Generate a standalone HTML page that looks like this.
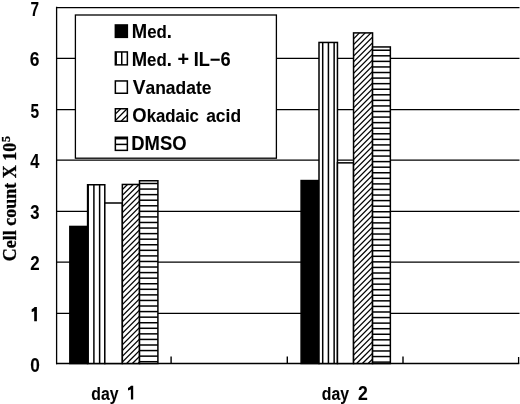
<!DOCTYPE html><html><head><meta charset="utf-8"><style>text{font-kerning:none}html,body{margin:0;padding:0;background:#fff;width:520px;height:404px;overflow:hidden}svg{display:block;filter:grayscale(1)}</style></head><body>
<svg width="520" height="404" viewBox="0 0 520 404">
<rect width="520" height="404" fill="#fff"/>
<g stroke="#000" stroke-width="1.25" fill="none">
<line x1="56" y1="313.3" x2="519.5" y2="313.3"/>
<line x1="56" y1="262" x2="519.5" y2="262"/>
<line x1="56" y1="211.3" x2="519.5" y2="211.3"/>
<line x1="56" y1="160.1" x2="519.5" y2="160.1"/>
<line x1="56" y1="109.7" x2="519.5" y2="109.7"/>
<line x1="56" y1="58.4" x2="519.5" y2="58.4"/>
<line x1="56" y1="7.6" x2="519.5" y2="7.6"/>
</g>
<line x1="56.6" y1="6.7" x2="56.6" y2="364.2" stroke="#000" stroke-width="1.3"/>
<line x1="56" y1="363.6" x2="519.3" y2="363.6" stroke="#000" stroke-width="1.5"/>
<line x1="171.1" y1="356.6" x2="171.1" y2="363.6" stroke="#000" stroke-width="1.4"/>
<line x1="287.3" y1="356.6" x2="287.3" y2="363.6" stroke="#000" stroke-width="1.4"/>
<line x1="403.0" y1="356.6" x2="403.0" y2="363.6" stroke="#000" stroke-width="1.4"/>
<line x1="518.6" y1="357" x2="518.6" y2="363.6" stroke="#000" stroke-width="1.3"/>
<rect x="69.85" y="226.45" width="17.75" height="137.05" fill="#000"/>
<rect x="69.85" y="226.45" width="17.75" height="137.05" fill="none" stroke="#000" stroke-width="1.5"/>
<rect x="87.6" y="184.75" width="17.2" height="178.75" fill="#fff"/>
<g stroke="#000" stroke-width="1.5"><line x1="88.18" y1="184.75" x2="88.18" y2="363.5"/><line x1="93.9" y1="184.75" x2="93.9" y2="363.5"/><line x1="99.62" y1="184.75" x2="99.62" y2="363.5"/></g>
<rect x="87.6" y="184.75" width="17.2" height="178.75" fill="none" stroke="#000" stroke-width="1.5"/>
<rect x="104.8" y="203" width="17.55" height="160.5" fill="#fff"/>
<rect x="104.8" y="203" width="17.55" height="160.5" fill="none" stroke="#000" stroke-width="1.5"/>
<rect x="122.35" y="184.45" width="17.15" height="179.05" fill="#fff"/>
<clipPath id="c1"><rect x="122.35" y="184.45" width="17.15" height="179.05"/></clipPath>
<g clip-path="url(#c1)" stroke="#000" stroke-width="1.3"><line x1="-51.6" y1="363.5" x2="127.45" y2="184.45"/><line x1="-45.85" y1="363.5" x2="133.2" y2="184.45"/><line x1="-40.1" y1="363.5" x2="138.95" y2="184.45"/><line x1="-34.35" y1="363.5" x2="144.7" y2="184.45"/><line x1="-28.6" y1="363.5" x2="150.45" y2="184.45"/><line x1="-22.85" y1="363.5" x2="156.2" y2="184.45"/><line x1="-17.1" y1="363.5" x2="161.95" y2="184.45"/><line x1="-11.35" y1="363.5" x2="167.7" y2="184.45"/><line x1="-5.6" y1="363.5" x2="173.45" y2="184.45"/><line x1="0.15" y1="363.5" x2="179.2" y2="184.45"/><line x1="5.9" y1="363.5" x2="184.95" y2="184.45"/><line x1="11.65" y1="363.5" x2="190.7" y2="184.45"/><line x1="17.4" y1="363.5" x2="196.45" y2="184.45"/><line x1="23.15" y1="363.5" x2="202.2" y2="184.45"/><line x1="28.9" y1="363.5" x2="207.95" y2="184.45"/><line x1="34.65" y1="363.5" x2="213.7" y2="184.45"/><line x1="40.4" y1="363.5" x2="219.45" y2="184.45"/><line x1="46.15" y1="363.5" x2="225.2" y2="184.45"/><line x1="51.9" y1="363.5" x2="230.95" y2="184.45"/><line x1="57.65" y1="363.5" x2="236.7" y2="184.45"/><line x1="63.4" y1="363.5" x2="242.45" y2="184.45"/><line x1="69.15" y1="363.5" x2="248.2" y2="184.45"/><line x1="74.9" y1="363.5" x2="253.95" y2="184.45"/><line x1="80.65" y1="363.5" x2="259.7" y2="184.45"/><line x1="86.4" y1="363.5" x2="265.45" y2="184.45"/><line x1="92.15" y1="363.5" x2="271.2" y2="184.45"/><line x1="97.9" y1="363.5" x2="276.95" y2="184.45"/><line x1="103.65" y1="363.5" x2="282.7" y2="184.45"/><line x1="109.4" y1="363.5" x2="288.45" y2="184.45"/><line x1="115.15" y1="363.5" x2="294.2" y2="184.45"/><line x1="120.9" y1="363.5" x2="299.95" y2="184.45"/><line x1="126.65" y1="363.5" x2="305.7" y2="184.45"/><line x1="132.4" y1="363.5" x2="311.45" y2="184.45"/><line x1="138.15" y1="363.5" x2="317.2" y2="184.45"/></g>
<rect x="122.35" y="184.45" width="17.15" height="179.05" fill="none" stroke="#000" stroke-width="1.5"/>
<rect x="139.5" y="180.75" width="18.4" height="182.75" fill="#fff"/>
<g stroke="#000" stroke-width="1.5"><line x1="139.5" y1="183.5" x2="157.9" y2="183.5"/><line x1="139.5" y1="189.07" x2="157.9" y2="189.07"/><line x1="139.5" y1="194.64" x2="157.9" y2="194.64"/><line x1="139.5" y1="200.21" x2="157.9" y2="200.21"/><line x1="139.5" y1="205.78" x2="157.9" y2="205.78"/><line x1="139.5" y1="211.34" x2="157.9" y2="211.34"/><line x1="139.5" y1="216.91" x2="157.9" y2="216.91"/><line x1="139.5" y1="222.48" x2="157.9" y2="222.48"/><line x1="139.5" y1="228.05" x2="157.9" y2="228.05"/><line x1="139.5" y1="233.62" x2="157.9" y2="233.62"/><line x1="139.5" y1="239.19" x2="157.9" y2="239.19"/><line x1="139.5" y1="244.76" x2="157.9" y2="244.76"/><line x1="139.5" y1="250.33" x2="157.9" y2="250.33"/><line x1="139.5" y1="255.9" x2="157.9" y2="255.9"/><line x1="139.5" y1="261.47" x2="157.9" y2="261.47"/><line x1="139.5" y1="267.03" x2="157.9" y2="267.03"/><line x1="139.5" y1="272.6" x2="157.9" y2="272.6"/><line x1="139.5" y1="278.17" x2="157.9" y2="278.17"/><line x1="139.5" y1="283.74" x2="157.9" y2="283.74"/><line x1="139.5" y1="289.31" x2="157.9" y2="289.31"/><line x1="139.5" y1="294.88" x2="157.9" y2="294.88"/><line x1="139.5" y1="300.45" x2="157.9" y2="300.45"/><line x1="139.5" y1="306.02" x2="157.9" y2="306.02"/><line x1="139.5" y1="311.59" x2="157.9" y2="311.59"/><line x1="139.5" y1="317.16" x2="157.9" y2="317.16"/><line x1="139.5" y1="322.73" x2="157.9" y2="322.73"/><line x1="139.5" y1="328.29" x2="157.9" y2="328.29"/><line x1="139.5" y1="333.86" x2="157.9" y2="333.86"/><line x1="139.5" y1="339.43" x2="157.9" y2="339.43"/><line x1="139.5" y1="345" x2="157.9" y2="345"/><line x1="139.5" y1="350.57" x2="157.9" y2="350.57"/><line x1="139.5" y1="356.14" x2="157.9" y2="356.14"/><line x1="139.5" y1="361.71" x2="157.9" y2="361.71"/></g>
<rect x="139.5" y="180.75" width="18.4" height="182.75" fill="none" stroke="#000" stroke-width="1.5"/>
<rect x="301.1" y="180.55" width="17.9" height="182.95" fill="#000"/>
<rect x="301.1" y="180.55" width="17.9" height="182.95" fill="none" stroke="#000" stroke-width="1.5"/>
<rect x="319" y="42.45" width="18.45" height="321.05" fill="#fff"/>
<g stroke="#000" stroke-width="1.5"><line x1="322.7" y1="42.45" x2="322.7" y2="363.5"/><line x1="328.42" y1="42.45" x2="328.42" y2="363.5"/><line x1="334.14" y1="42.45" x2="334.14" y2="363.5"/></g>
<rect x="319" y="42.45" width="18.45" height="321.05" fill="none" stroke="#000" stroke-width="1.5"/>
<rect x="337.45" y="162.85" width="16.1" height="200.65" fill="#fff"/>
<rect x="337.45" y="162.85" width="16.1" height="200.65" fill="none" stroke="#000" stroke-width="1.5"/>
<rect x="353.55" y="32.9" width="19" height="330.6" fill="#fff"/>
<clipPath id="c2"><rect x="353.55" y="32.9" width="19" height="330.6"/></clipPath>
<g clip-path="url(#c2)" stroke="#000" stroke-width="1.3"><line x1="23.15" y1="363.5" x2="353.75" y2="32.9"/><line x1="28.9" y1="363.5" x2="359.5" y2="32.9"/><line x1="34.65" y1="363.5" x2="365.25" y2="32.9"/><line x1="40.4" y1="363.5" x2="371" y2="32.9"/><line x1="46.15" y1="363.5" x2="376.75" y2="32.9"/><line x1="51.9" y1="363.5" x2="382.5" y2="32.9"/><line x1="57.65" y1="363.5" x2="388.25" y2="32.9"/><line x1="63.4" y1="363.5" x2="394" y2="32.9"/><line x1="69.15" y1="363.5" x2="399.75" y2="32.9"/><line x1="74.9" y1="363.5" x2="405.5" y2="32.9"/><line x1="80.65" y1="363.5" x2="411.25" y2="32.9"/><line x1="86.4" y1="363.5" x2="417" y2="32.9"/><line x1="92.15" y1="363.5" x2="422.75" y2="32.9"/><line x1="97.9" y1="363.5" x2="428.5" y2="32.9"/><line x1="103.65" y1="363.5" x2="434.25" y2="32.9"/><line x1="109.4" y1="363.5" x2="440" y2="32.9"/><line x1="115.15" y1="363.5" x2="445.75" y2="32.9"/><line x1="120.9" y1="363.5" x2="451.5" y2="32.9"/><line x1="126.65" y1="363.5" x2="457.25" y2="32.9"/><line x1="132.4" y1="363.5" x2="463" y2="32.9"/><line x1="138.15" y1="363.5" x2="468.75" y2="32.9"/><line x1="143.9" y1="363.5" x2="474.5" y2="32.9"/><line x1="149.65" y1="363.5" x2="480.25" y2="32.9"/><line x1="155.4" y1="363.5" x2="486" y2="32.9"/><line x1="161.15" y1="363.5" x2="491.75" y2="32.9"/><line x1="166.9" y1="363.5" x2="497.5" y2="32.9"/><line x1="172.65" y1="363.5" x2="503.25" y2="32.9"/><line x1="178.4" y1="363.5" x2="509" y2="32.9"/><line x1="184.15" y1="363.5" x2="514.75" y2="32.9"/><line x1="189.9" y1="363.5" x2="520.5" y2="32.9"/><line x1="195.65" y1="363.5" x2="526.25" y2="32.9"/><line x1="201.4" y1="363.5" x2="532" y2="32.9"/><line x1="207.15" y1="363.5" x2="537.75" y2="32.9"/><line x1="212.9" y1="363.5" x2="543.5" y2="32.9"/><line x1="218.65" y1="363.5" x2="549.25" y2="32.9"/><line x1="224.4" y1="363.5" x2="555" y2="32.9"/><line x1="230.15" y1="363.5" x2="560.75" y2="32.9"/><line x1="235.9" y1="363.5" x2="566.5" y2="32.9"/><line x1="241.65" y1="363.5" x2="572.25" y2="32.9"/><line x1="247.4" y1="363.5" x2="578" y2="32.9"/><line x1="253.15" y1="363.5" x2="583.75" y2="32.9"/><line x1="258.9" y1="363.5" x2="589.5" y2="32.9"/><line x1="264.65" y1="363.5" x2="595.25" y2="32.9"/><line x1="270.4" y1="363.5" x2="601" y2="32.9"/><line x1="276.15" y1="363.5" x2="606.75" y2="32.9"/><line x1="281.9" y1="363.5" x2="612.5" y2="32.9"/><line x1="287.65" y1="363.5" x2="618.25" y2="32.9"/><line x1="293.4" y1="363.5" x2="624" y2="32.9"/><line x1="299.15" y1="363.5" x2="629.75" y2="32.9"/><line x1="304.9" y1="363.5" x2="635.5" y2="32.9"/><line x1="310.65" y1="363.5" x2="641.25" y2="32.9"/><line x1="316.4" y1="363.5" x2="647" y2="32.9"/><line x1="322.15" y1="363.5" x2="652.75" y2="32.9"/><line x1="327.9" y1="363.5" x2="658.5" y2="32.9"/><line x1="333.65" y1="363.5" x2="664.25" y2="32.9"/><line x1="339.4" y1="363.5" x2="670" y2="32.9"/><line x1="345.15" y1="363.5" x2="675.75" y2="32.9"/><line x1="350.9" y1="363.5" x2="681.5" y2="32.9"/><line x1="356.65" y1="363.5" x2="687.25" y2="32.9"/><line x1="362.4" y1="363.5" x2="693" y2="32.9"/><line x1="368.15" y1="363.5" x2="698.75" y2="32.9"/></g>
<rect x="353.55" y="32.9" width="19" height="330.6" fill="none" stroke="#000" stroke-width="1.5"/>
<rect x="372.55" y="46.95" width="17.8" height="316.55" fill="#fff"/>
<g stroke="#000" stroke-width="1.5"><line x1="372.55" y1="50.24" x2="390.35" y2="50.24"/><line x1="372.55" y1="55.81" x2="390.35" y2="55.81"/><line x1="372.55" y1="61.38" x2="390.35" y2="61.38"/><line x1="372.55" y1="66.95" x2="390.35" y2="66.95"/><line x1="372.55" y1="72.52" x2="390.35" y2="72.52"/><line x1="372.55" y1="78.09" x2="390.35" y2="78.09"/><line x1="372.55" y1="83.66" x2="390.35" y2="83.66"/><line x1="372.55" y1="89.23" x2="390.35" y2="89.23"/><line x1="372.55" y1="94.8" x2="390.35" y2="94.8"/><line x1="372.55" y1="100.37" x2="390.35" y2="100.37"/><line x1="372.55" y1="105.93" x2="390.35" y2="105.93"/><line x1="372.55" y1="111.5" x2="390.35" y2="111.5"/><line x1="372.55" y1="117.07" x2="390.35" y2="117.07"/><line x1="372.55" y1="122.64" x2="390.35" y2="122.64"/><line x1="372.55" y1="128.21" x2="390.35" y2="128.21"/><line x1="372.55" y1="133.78" x2="390.35" y2="133.78"/><line x1="372.55" y1="139.35" x2="390.35" y2="139.35"/><line x1="372.55" y1="144.92" x2="390.35" y2="144.92"/><line x1="372.55" y1="150.49" x2="390.35" y2="150.49"/><line x1="372.55" y1="156.06" x2="390.35" y2="156.06"/><line x1="372.55" y1="161.62" x2="390.35" y2="161.62"/><line x1="372.55" y1="167.19" x2="390.35" y2="167.19"/><line x1="372.55" y1="172.76" x2="390.35" y2="172.76"/><line x1="372.55" y1="178.33" x2="390.35" y2="178.33"/><line x1="372.55" y1="183.9" x2="390.35" y2="183.9"/><line x1="372.55" y1="189.47" x2="390.35" y2="189.47"/><line x1="372.55" y1="195.04" x2="390.35" y2="195.04"/><line x1="372.55" y1="200.61" x2="390.35" y2="200.61"/><line x1="372.55" y1="206.18" x2="390.35" y2="206.18"/><line x1="372.55" y1="211.75" x2="390.35" y2="211.75"/><line x1="372.55" y1="217.31" x2="390.35" y2="217.31"/><line x1="372.55" y1="222.88" x2="390.35" y2="222.88"/><line x1="372.55" y1="228.45" x2="390.35" y2="228.45"/><line x1="372.55" y1="234.02" x2="390.35" y2="234.02"/><line x1="372.55" y1="239.59" x2="390.35" y2="239.59"/><line x1="372.55" y1="245.16" x2="390.35" y2="245.16"/><line x1="372.55" y1="250.73" x2="390.35" y2="250.73"/><line x1="372.55" y1="256.3" x2="390.35" y2="256.3"/><line x1="372.55" y1="261.87" x2="390.35" y2="261.87"/><line x1="372.55" y1="267.44" x2="390.35" y2="267.44"/><line x1="372.55" y1="273" x2="390.35" y2="273"/><line x1="372.55" y1="278.57" x2="390.35" y2="278.57"/><line x1="372.55" y1="284.14" x2="390.35" y2="284.14"/><line x1="372.55" y1="289.71" x2="390.35" y2="289.71"/><line x1="372.55" y1="295.28" x2="390.35" y2="295.28"/><line x1="372.55" y1="300.85" x2="390.35" y2="300.85"/><line x1="372.55" y1="306.42" x2="390.35" y2="306.42"/><line x1="372.55" y1="311.99" x2="390.35" y2="311.99"/><line x1="372.55" y1="317.56" x2="390.35" y2="317.56"/><line x1="372.55" y1="323.12" x2="390.35" y2="323.12"/><line x1="372.55" y1="328.69" x2="390.35" y2="328.69"/><line x1="372.55" y1="334.26" x2="390.35" y2="334.26"/><line x1="372.55" y1="339.83" x2="390.35" y2="339.83"/><line x1="372.55" y1="345.4" x2="390.35" y2="345.4"/><line x1="372.55" y1="350.97" x2="390.35" y2="350.97"/><line x1="372.55" y1="356.54" x2="390.35" y2="356.54"/><line x1="372.55" y1="362.11" x2="390.35" y2="362.11"/></g>
<rect x="372.55" y="46.95" width="17.8" height="316.55" fill="none" stroke="#000" stroke-width="1.5"/>
<rect x="75.4" y="15" width="201" height="143.2" fill="#fff" stroke="#000" stroke-width="1.3"/>
<rect x="115.35" y="24.95" width="12" height="12.4" fill="#000"/>
<rect x="115.35" y="24.95" width="12" height="12.4" fill="none" stroke="#000" stroke-width="1.5"/>
<rect x="115.35" y="51.95" width="12" height="12.9" fill="#fff"/>
<g stroke="#000" stroke-width="1.5"><line x1="116.2" y1="51.95" x2="116.2" y2="64.85"/><line x1="121.75" y1="51.95" x2="121.75" y2="64.85"/></g>
<rect x="115.35" y="51.95" width="12" height="12.9" fill="none" stroke="#000" stroke-width="1.5"/>
<rect x="115.35" y="80.95" width="12" height="12.3" fill="#fff"/>
<rect x="115.35" y="80.95" width="12" height="12.3" fill="none" stroke="#000" stroke-width="1.5"/>
<rect x="115.35" y="108.75" width="12" height="12.5" fill="#fff"/>
<clipPath id="c3"><rect x="115.35" y="108.75" width="12" height="12.5"/></clipPath>
<g clip-path="url(#c3)" stroke="#000" stroke-width="1.3"><line x1="108.15" y1="121.25" x2="120.65" y2="108.75"/><line x1="114.55" y1="121.25" x2="127.05" y2="108.75"/><line x1="121.05" y1="121.25" x2="133.55" y2="108.75"/></g>
<rect x="115.35" y="108.75" width="12" height="12.5" fill="none" stroke="#000" stroke-width="1.5"/>
<rect x="115.35" y="137.25" width="12" height="13.1" fill="#fff"/>
<g stroke="#000" stroke-width="1.5"><line x1="115.35" y1="138.7" x2="127.35" y2="138.7"/><line x1="115.35" y1="144.4" x2="127.35" y2="144.4"/></g>
<rect x="115.35" y="137.25" width="12" height="13.1" fill="none" stroke="#000" stroke-width="1.5"/>
<text x="131.76" y="37.6" font-family="Liberation Sans" font-weight="bold" stroke="#000" stroke-width="0.08" font-size="19.5" textLength="40.21" lengthAdjust="spacingAndGlyphs">M<tspan font-size="17.8">ed</tspan>.</text>
<text x="131.66" y="65.5" font-family="Liberation Sans" font-weight="bold" stroke="#000" stroke-width="0.08" font-size="19.5" textLength="40.21" lengthAdjust="spacingAndGlyphs">M<tspan font-size="17.8">ed</tspan>.</text>
<text x="177.47" y="65.5" font-family="Liberation Sans" font-weight="bold" stroke="#000" stroke-width="0.08" font-size="19.5" textLength="11.53" lengthAdjust="spacingAndGlyphs">+</text>
<text x="193.68" y="65.5" font-family="Liberation Sans" font-weight="bold" stroke="#000" stroke-width="0.08" font-size="19.5" textLength="36.87" lengthAdjust="spacingAndGlyphs">IL−6</text>
<text x="132.77" y="94.1" font-family="Liberation Sans" font-weight="bold" stroke="#000" stroke-width="0.08" font-size="19.5" textLength="78.63" lengthAdjust="spacingAndGlyphs">V<tspan font-size="17.8">anadate</tspan></text>
<text x="132.35" y="121.8" font-family="Liberation Sans" font-weight="bold" stroke="#000" stroke-width="0.08" font-size="19.5" textLength="66.55" lengthAdjust="spacingAndGlyphs">O<tspan font-size="17.8">kadaic</tspan></text>
<text x="206.19" y="121.8" font-family="Liberation Sans" font-weight="bold" stroke="#000" stroke-width="0.08" font-size="19.5" textLength="34.86" lengthAdjust="spacingAndGlyphs"><tspan font-size="17.8">acid</tspan></text>
<text x="131.27" y="149.8" font-family="Liberation Sans" font-weight="bold" stroke="#000" stroke-width="0.08" font-size="19.5" textLength="55.31" lengthAdjust="spacingAndGlyphs">DMSO</text>
<text x="30.54" y="15.8" font-family="Liberation Sans" font-weight="bold" stroke="#000" stroke-width="0.08" font-size="19.5" textLength="8.53" lengthAdjust="spacingAndGlyphs">7</text>
<text x="29.76" y="66" font-family="Liberation Sans" font-weight="bold" stroke="#000" stroke-width="0.08" font-size="19.5" textLength="9.66" lengthAdjust="spacingAndGlyphs">6</text>
<text x="30.52" y="117.5" font-family="Liberation Sans" font-weight="bold" stroke="#000" stroke-width="0.08" font-size="19.5" textLength="8.61" lengthAdjust="spacingAndGlyphs">5</text>
<text x="30.25" y="167.7" font-family="Liberation Sans" font-weight="bold" stroke="#000" stroke-width="0.08" font-size="19.5" textLength="9.14" lengthAdjust="spacingAndGlyphs">4</text>
<text x="30.22" y="218.6" font-family="Liberation Sans" font-weight="bold" stroke="#000" stroke-width="0.08" font-size="19.5" textLength="9.29" lengthAdjust="spacingAndGlyphs">3</text>
<text x="30.16" y="269.5" font-family="Liberation Sans" font-weight="bold" stroke="#000" stroke-width="0.08" font-size="19.5" textLength="9.41" lengthAdjust="spacingAndGlyphs">2</text>
<text x="30.22" y="371.6" font-family="Liberation Sans" font-weight="bold" stroke="#000" stroke-width="0.08" font-size="19.5" textLength="9.59" lengthAdjust="spacingAndGlyphs">0</text>
<path d="M36.9,307 L36.9,321.3 L34.2,321.3 L34.2,311 Q33,311.8 31.7,312 L31.7,309.2 Q33.6,308.6 34.6,307 Z" fill="#000"/>
<text x="91.35" y="399.7" font-family="Liberation Sans" font-weight="bold" stroke="#000" stroke-width="0.08" font-size="19.6" textLength="27.23" lengthAdjust="spacingAndGlyphs"><tspan font-size="18.8">day</tspan></text>
<path d="M133.2,385.7 L133.2,399.6 L130.9,399.6 L130.9,389.6 Q129.5,390.3 128,390.5 L128,387.9 Q130,387.2 131,385.7 Z" fill="#000"/>
<text x="321.85" y="399.7" font-family="Liberation Sans" font-weight="bold" stroke="#000" stroke-width="0.08" font-size="19.6" textLength="27.23" lengthAdjust="spacingAndGlyphs"><tspan font-size="18.8">day</tspan></text>
<text x="357.89" y="399.7" font-family="Liberation Sans" font-weight="bold" stroke="#000" stroke-width="0.08" font-size="19.6" textLength="9.82" lengthAdjust="spacingAndGlyphs">2</text>
<g transform="translate(16,261.3) rotate(-90)"><text x="0" y="0" font-family="Liberation Serif" font-weight="bold" font-size="18" stroke="#000" stroke-width="0.3">Cell count X 10<tspan font-size="12" dx="0.9" dy="-5.9">5</tspan></text></g>
</svg></body></html>
